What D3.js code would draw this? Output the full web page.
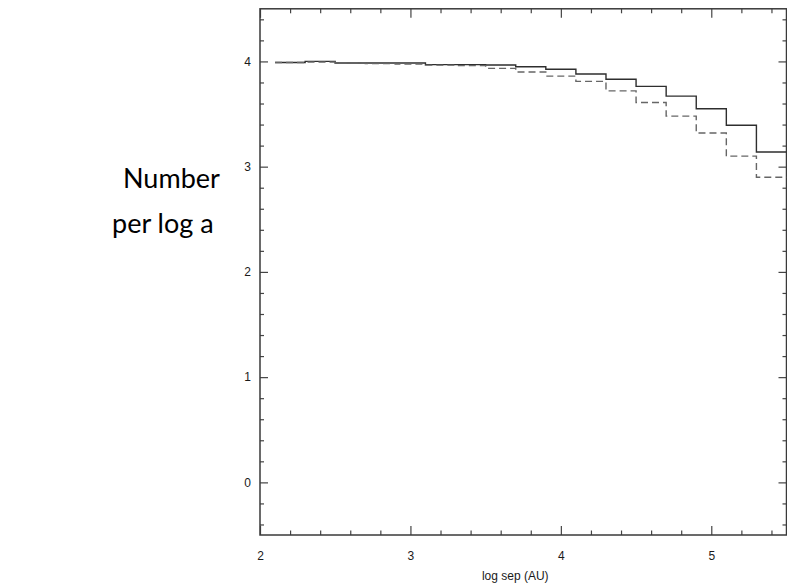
<!DOCTYPE html>
<html>
<head>
<meta charset="utf-8">
<script src="https://cdn.jsdelivr.net/npm/d3@7"></script>
<style>
  body { margin: 0; background: #fff; }
  svg { display: block; }
</style>
</head>
<body>
<svg id="container" width="787" height="588"></svg>
<script>
// Bin edges in log sep (AU), one more than there are values
const binEdges = [2.1, 2.3, 2.5, 2.7, 2.9, 3.1, 3.3, 3.5, 3.7, 3.9, 4.1, 4.3, 4.5, 4.7, 4.9, 5.1, 5.3, 5.5]
// Solid histogram
const solidValues = [3.99, 4.0, 3.985, 3.985, 3.985, 3.97, 3.97, 3.966, 3.95, 3.925, 3.88, 3.83, 3.763, 3.67, 3.55, 3.393, 3.14]
// Dashed histogram
const dashedValues = [3.99, 3.995, 3.985, 3.98, 3.975, 3.965, 3.96, 3.934, 3.90, 3.86, 3.81, 3.72, 3.61, 3.48, 3.32, 3.10, 2.90]
const xTickLabels = [2, 3, 4, 5]
const yTickLabels = [0, 1, 2, 3, 4]
const xDomain = [2, 5.5]
const yDomain = [-0.5, 4.5]
const sideLabel = ["Number", "per log a"]
const xTitle = "log sep (AU)"

const container = d3.select("#container")

//Plot box (plotTop, not top: window.top already exists)
const plotLeft = 260, plotRight = 786.5, plotTop = 8.8, plotBottom = 535

const x = d3.scaleLinear().domain(xDomain).range([plotLeft, plotRight])
const y = d3.scaleLinear().domain(yDomain).range([plotBottom, plotTop])

drawAxes()
drawSteps(solidValues, '#2e2e2e', null)
drawSteps(dashedValues, '#666', '7,4')
drawText()

// Builds a step path out of the bin edges, the last value is held to the final edge
function drawSteps(values, colour, dash){
  const pts = binEdges.map((e, i) => [e, values[Math.min(i, values.length - 1)]])
  const line = d3.line()
    .x(d => x(d[0]))
    .y(d => y(d[1]))
    .curve(d3.curveStepAfter)
  container.append('path')
    .datum(pts)
    .attr('d', line)
    .attr('fill', 'none')
    .attr('stroke', colour)
    .attr('stroke-width', 1.4)
    .attr('stroke-dasharray', dash)
}

function drawAxes(){
  const minorX = x.ticks(20).filter(t => !xTickLabels.includes(t))
  const minorY = y.ticks(25).filter(t => !yTickLabels.includes(Math.round(t * 1000) / 1000))

  const styleAxis = g => {
    g.select('.domain').remove()
    g.selectAll('line').attr('stroke', '#444').attr('stroke-width', 1.2)
    g.selectAll('text')
      .attr('fill', '#1a1a1a')
      .attr('font-family', 'Liberation Sans, Arial, sans-serif')
      .attr('font-size', 12)
  }

  // bottom
  container.append('g').attr('transform', `translate(0,${plotBottom})`)
    .call(d3.axisBottom(x).tickValues(xTickLabels).tickSize(-9).tickPadding(16).tickFormat(d3.format('d')))
    .call(styleAxis)
  container.append('g').attr('transform', `translate(0,${plotBottom})`)
    .call(d3.axisBottom(x).tickValues(minorX).tickSize(-4.5).tickFormat(''))
    .call(styleAxis)
  // top
  container.append('g').attr('transform', `translate(0,${plotTop})`)
    .call(d3.axisTop(x).tickValues(xTickLabels).tickSize(-9).tickFormat(''))
    .call(styleAxis)
  container.append('g').attr('transform', `translate(0,${plotTop})`)
    .call(d3.axisTop(x).tickValues(minorX).tickSize(-4.5).tickFormat(''))
    .call(styleAxis)
  // left
  container.append('g').attr('transform', `translate(${plotLeft},0)`)
    .call(d3.axisLeft(y).tickValues(yTickLabels).tickSize(-8).tickPadding(9).tickFormat(d3.format('d')))
    .call(styleAxis)
  container.append('g').attr('transform', `translate(${plotLeft},0)`)
    .call(d3.axisLeft(y).tickValues(minorY).tickSize(-4).tickFormat(''))
    .call(styleAxis)
  // right
  container.append('g').attr('transform', `translate(${plotRight},0)`)
    .call(d3.axisRight(y).tickValues(yTickLabels).tickSize(-8).tickFormat(''))
    .call(styleAxis)
  container.append('g').attr('transform', `translate(${plotRight},0)`)
    .call(d3.axisRight(y).tickValues(minorY).tickSize(-4).tickFormat(''))
    .call(styleAxis)

  container.append('rect')
    .attr('x', plotLeft).attr('y', plotTop)
    .attr('width', plotRight - plotLeft).attr('height', plotBottom - plotTop)
    .attr('fill', 'none')
    .attr('stroke', '#3a3a3a')
    .attr('stroke-width', 1.5)
}

function drawText(){
  container.append('text')
    .text(xTitle)
    .attr('x', (plotLeft + plotRight) / 2 - 8)
    .attr('y', 580)
    .attr('text-anchor', 'middle')
    .attr('fill', '#1a1a1a')
    .attr('font-family', 'Liberation Sans, Arial, sans-serif')
    .attr('font-size', 12)

  const label = container.append('text')
    .attr('fill', '#000')
    .attr('font-family', 'Lato, Open Sans, sans-serif')
    .attr('font-size', 27)
  label.append('tspan').attr('x', 123).attr('y', 188).text(sideLabel[0])
  label.append('tspan').attr('x', 112).attr('y', 233).text(sideLabel[1])
}
</script>
</body>
</html>
